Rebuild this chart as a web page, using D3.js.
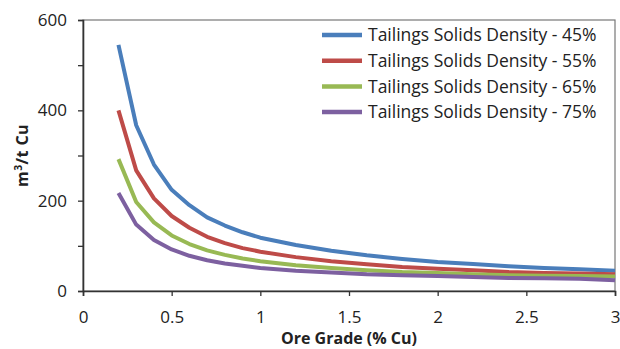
<!DOCTYPE html>
<html>
<head>
<meta charset="utf-8">
<script src="https://cdn.jsdelivr.net/npm/d3@7"></script>
<style>
  body { margin: 0; background: #fff; }
  text { font-family: "Open Sans", sans-serif; fill: #222; }
</style>
</head>
<body>
<svg id="chart" width="620" height="349"></svg>
<script>
// ore grade (% Cu)
const grades = [0.2, 0.3, 0.4, 0.5, 0.6, 0.7, 0.8, 0.9, 1.0, 1.2, 1.4, 1.6, 1.8, 2.0, 2.2, 2.4, 2.6, 2.8, 3.0];

// m3 / t Cu
const density45 = [545, 367, 280, 224, 190, 163, 145, 130, 118, 102, 89, 79, 71, 64, 60, 55, 51, 48, 45];
const density55 = [400, 267, 205, 166, 140, 120, 106, 95, 87, 75, 66, 59, 53, 49, 46, 42, 40, 39, 37];
const density65 = [292, 197, 152, 123, 104, 90, 80, 72, 66, 57, 51, 46, 42, 40, 37, 35, 34, 33, 32];
const density75 = [217, 147, 113, 92, 78, 68, 61, 56, 51, 45, 41, 37, 35, 33, 31, 29, 28, 27, 24];

const seriesNames = ["Tailings Solids Density - 45%", "Tailings Solids Density - 55%",
                     "Tailings Solids Density - 65%", "Tailings Solids Density - 75%"];
const seriesColors = ["#4a7ebb", "#be4b48", "#98b954", "#7d60a0"];
const seriesValues = [density45, density55, density65, density75];

const xTicks = [0, 0.5, 1, 1.5, 2, 2.5, 3];
const yTicks = [0, 100, 200, 300, 400, 500, 600];
const yLabels = [0, 200, 400, 600];

const margin = {left: 83, top: 20, right: 5, bottom: 58};
const width = 620 - margin.left - margin.right;
const height = 349 - margin.top - margin.bottom;

const svg = d3.select('#chart');
const g = svg.append('g').attr('transform', `translate(${margin.left},${margin.top})`);

const xScale = d3.scaleLinear().domain([0, 3]).range([0, width]);
const yScale = d3.scaleLinear().domain([0, 600]).range([height, 0]);

// frame
g.append('rect')
    .attr('width', width).attr('height', height)
    .attr('fill', 'none').attr('stroke', '#777').attr('stroke-width', 1.2);

const xAxis = d3.axisBottom(xScale).tickValues(xTicks).tickSize(5).tickPadding(15)
    .tickFormat(d => d);
const yAxis = d3.axisLeft(yScale).tickValues(yTicks).tickSize(5).tickPadding(11)
    .tickFormat(d => yLabels.includes(d) ? d : '');

const gx = g.append('g').attr('transform', `translate(0,${height})`).call(xAxis);
const gy = g.append('g').call(yAxis);
[gx, gy].forEach(a => {
  a.select('.domain').attr('stroke', '#333').attr('stroke-width', 1.6);
  a.selectAll('.tick line').attr('stroke', '#333').attr('stroke-width', 1.3);
  a.selectAll('.tick text').attr('font-size', 17).attr('fill', '#222')
      .attr('font-family', '"Open Sans", sans-serif');
});

const line = d3.line()
    .x((d, i) => xScale(grades[i]))
    .y(d => yScale(d));

seriesValues.forEach((vals, k) => {
  g.append('path')
      .datum(vals)
      .attr('d', line)
      .attr('fill', 'none')
      .attr('stroke', seriesColors[k])
      .attr('stroke-width', 4)
      .attr('stroke-linejoin', 'round');
});

// legend
const legend = svg.append('g').attr('transform', 'translate(322,35)');
seriesNames.forEach((name, k) => {
  const row = legend.append('g').attr('transform', `translate(0,${k * 25.7})`);
  row.append('line').attr('x1', 0).attr('x2', 40).attr('y1', 0).attr('y2', 0)
      .attr('stroke', seriesColors[k]).attr('stroke-width', 4.5);
  row.append('text').attr('x', 46).attr('y', 0).attr('dy', '0.35em')
      .attr('font-size', 17.5).text(name);
});

// axis titles
svg.append('text')
    .attr('x', margin.left + xScale(1.5)).attr('y', 344)
    .attr('text-anchor', 'middle').attr('font-weight', 'bold').attr('font-size', 16)
    .text('Ore Grade (% Cu)');

const yt = svg.append('text')
    .attr('transform', `translate(28,${margin.top + yScale(300)}) rotate(-90)`)
    .attr('text-anchor', 'middle').attr('font-weight', 'bold').attr('font-size', 16)
    .attr('letter-spacing', 0.4);
yt.append('tspan').text('m');
yt.append('tspan').attr('dy', -6).attr('font-size', 10.5).text('3');
yt.append('tspan').attr('dy', 6).text('/t Cu');
</script>
</body>
</html>
